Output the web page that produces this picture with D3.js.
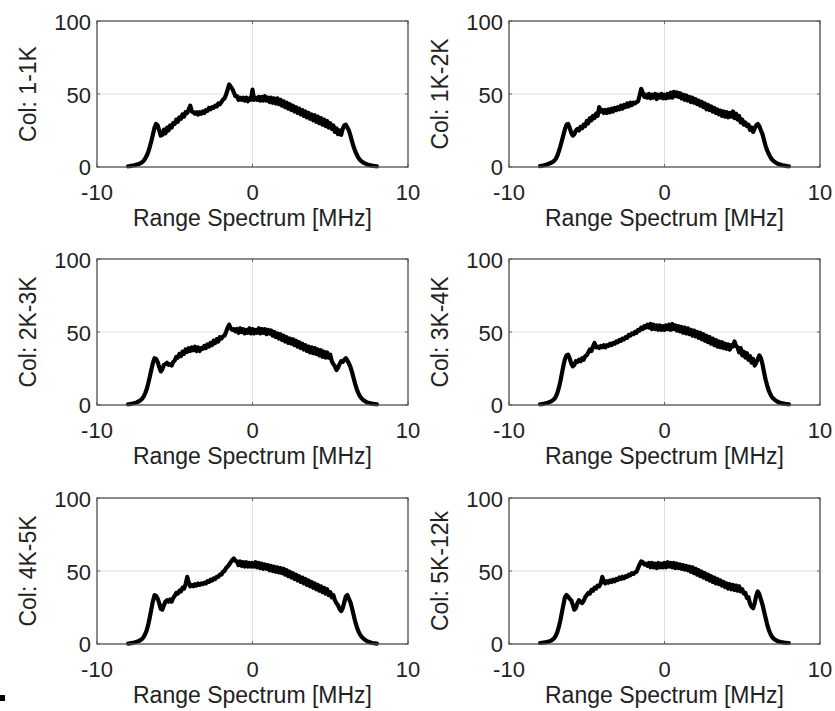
<!DOCTYPE html>
<html>
<head>
<meta charset="utf-8">
<script src="https://cdn.jsdelivr.net/npm/d3@7"></script>
<style>
  html, body { margin: 0; padding: 0; background: #fff; }
  svg { display: block; }
  text { font-family: "Liberation Sans", Arial, Helvetica, sans-serif; fill: #222; }
</style>
</head>
<body>
<svg id="chart" width="835" height="711"></svg>
<script>
// Range spectrum magnitude per column block, sampled every 0.1 MHz from -8 to 8 MHz
const freqStart = -8.0;
const freqStep = 0.1;

const panelLabels = ["Col: 1-1K", "Col: 1K-2K", "Col: 2K-3K", "Col: 3K-4K", "Col: 4K-5K", "Col: 5K-12k"];
const xTicks = [-10, 0, 10];
const yTicks = [0, 50, 100];
const xDomain = [-10, 10];
const yDomain = [0, 100];
const xTitle = "Range Spectrum [MHz]";

const spec1 = [
  0.5, 0.6, 0.8, 1.0, 1.2, 1.5, 1.8, 2.1, 2.6, 3.3,
  4.3, 5.8, 7.8, 10.5, 14, 18, 22.5, 27, 29.5, 28.5,
  25, 21.5, 22, 25.5, 23, 27, 25, 28.5, 27, 30,
  29.5, 32.5, 31, 34, 33, 36, 34.5, 37.5, 37, 39.5,
  42, 38, 37.5, 36.5, 37.5, 36, 37.5, 36.5, 38, 37,
  39, 38.5, 40.5, 39.5, 41, 40.5, 42, 41.5, 43.5, 43,
  44.5, 46, 47, 49.5, 53, 56.5, 55, 53.5, 51, 48.5,
  48.5, 46, 47.5, 46, 47.5, 45.5, 47.5, 45, 47, 46,
  53, 46, 47.5, 46, 48, 45.5, 48, 45.5, 48.5, 45.5,
  47.5, 44.5, 47.5, 44, 47, 43.5, 47, 43, 46, 42,
  45, 41, 44, 40, 43, 39, 42, 38, 41, 37,
  40, 36, 39, 35, 38, 34, 37, 33, 36, 32,
  35.5, 31, 34.5, 30, 33.5, 29, 32.5, 28, 31.5, 27,
  30, 26, 28.5, 24, 26.5, 22.5, 25, 22, 26, 28.5,
  29, 27, 25, 21.5, 17.5, 14, 11, 8.5, 6.5, 5,
  4, 3.2, 2.6, 2.1, 1.7, 1.4, 1.1, 0.9, 0.7, 0.6, 0.5
];

const spec2 = [
  0.6, 0.8, 1.0, 1.3, 1.6, 2.0, 2.4, 2.9, 3.4, 4.2,
  5.5, 7.5, 10.5, 14, 18, 22, 26, 29, 29.5, 27,
  23.5, 21.5, 22.5, 25, 26, 25, 27.5, 26.5, 29, 28,
  31.5, 30, 33.5, 32, 35, 33.5, 36.5, 35, 41, 38,
  39, 37, 39, 37, 39.5, 37.5, 40, 38, 40.5, 39,
  41, 39.5, 42, 40, 42.5, 41, 43.5, 41.5, 44, 42.5,
  44, 43.5, 44.5, 45, 49, 53.5, 51, 48, 49.5, 47.5,
  50, 47, 49.5, 47.5, 50, 46.5, 49.5, 47.5, 50, 47,
  49.5, 47, 50, 47.5, 51, 47.5, 51.5, 48.5, 51, 48,
  50.5, 47, 49.5, 46, 49, 45.5, 48, 44.5, 47.5, 44,
  46.5, 43, 45.5, 42, 44.5, 41, 43.5, 39.5, 42.5, 39,
  41.5, 38, 40.5, 37, 39.5, 36, 38.5, 35, 38, 34.5,
  37.5, 34, 37, 34.5, 38, 33.5, 36.5, 32.5, 35, 30.5,
  32.5, 29, 30.5, 28, 29, 25.5, 27, 24, 26.5, 28.5,
  29.5, 28, 25, 22.5, 18.5, 14.5, 11.5, 9, 7, 5.3,
  4.2, 3.4, 2.7, 2.2, 1.8, 1.5, 1.2, 1.0, 0.8, 0.6, 0.5
];

const spec3 = [
  0.5, 0.6, 0.8, 1.0, 1.3, 1.6, 2.0, 2.6, 3.3, 4.3,
  5.8, 8, 11, 15, 19.5, 24.5, 29, 32, 31.5, 29.5,
  26, 23, 24.5, 27.5, 28, 29, 27.5, 28, 27, 29.5,
  30.5, 33, 32.5, 35, 33.5, 36.5, 35, 38, 36.5, 39,
  37, 39.5, 37.5, 40, 37, 39.5, 37, 39, 38.5, 40.5,
  39, 41.5, 40, 42.5, 41, 44, 42.5, 45, 43.5, 46.5,
  45.5, 47, 47.5, 50, 53, 55, 52.5, 51.5, 52, 50.5,
  52, 49.5, 52.5, 50, 52, 49, 51.5, 49.5, 52.5, 49,
  52, 49, 51.5, 49.5, 52.5, 49, 52, 49.5, 52, 48.5,
  51.5, 49, 51, 47.5, 50, 46.5, 49, 45.5, 48.5, 44.5,
  47.5, 43.5, 46.5, 42.5, 45.5, 42, 45, 41, 44, 40,
  43, 39, 42, 38, 41, 37, 40, 36, 39.5, 35.5,
  39, 35, 38, 34, 37.5, 33, 36.5, 32.5, 36, 32.5,
  34.5, 30, 28, 26.5, 24, 25.5, 28, 30, 29.5, 31,
  32, 30.5, 28.5, 26, 22.5, 18.5, 14.5, 11, 8.3, 6.2,
  4.7, 3.6, 2.8, 2.2, 1.7, 1.4, 1.1, 0.9, 0.7, 0.6, 0.5
];

const spec4 = [
  0.5, 0.6, 0.8, 1.0, 1.3, 1.6, 2.0, 2.5, 3.1, 4.0,
  5.5, 8, 11.5, 16, 21.5, 27, 31.5, 34, 34.5, 32,
  28.5, 26.5, 27.5, 30, 29.5, 31, 30, 32, 31, 33.5,
  34, 36, 38, 37, 40, 42.5, 39.5, 40, 39, 40.5,
  39.5, 41, 39.5, 41, 40.5, 42, 41, 42.5, 42, 43.5,
  43, 44.5, 44, 45.5, 45, 46.5, 46, 48, 47.5, 49,
  48.5, 50, 49.5, 51.5, 51, 53, 52, 54, 53, 55,
  53, 55.5, 52, 55, 52, 54.5, 51.5, 54.5, 51.5, 54,
  51.5, 54.5, 52, 55, 51.5, 55.5, 52, 54.5, 51, 54,
  50.5, 53.5, 49.5, 53, 49, 52.5, 48.5, 51.5, 47.5, 51,
  47, 50, 46, 49.5, 45, 48.5, 44, 47.5, 43, 46.5,
  42, 45.5, 41, 44.5, 40, 43.5, 39.5, 43, 39, 42,
  38.5, 41.5, 38, 41, 40, 43.5, 40.5, 39.5, 36, 39,
  34, 36.5, 32.5, 35.5, 31, 33.5, 29, 31.5, 27, 29,
  31.5, 34, 32, 28, 22.5, 17.5, 13.5, 10, 7.5, 5.6,
  4.4, 3.4, 2.7, 2.1, 1.7, 1.3, 1.1, 0.9, 0.7, 0.6, 0.5
];

const spec5 = [
  0.3, 0.4, 0.6, 0.8, 1.0, 1.3, 1.7, 2.1, 2.7, 3.5,
  4.8, 6.8, 9.5, 13.5, 18.5, 24, 29.5, 33.5, 33, 31,
  28, 24, 23.5, 26.5, 29, 30, 29, 30.5, 29, 31.5,
  33, 35, 34.5, 36.5, 36, 38.5, 38, 41, 46, 42,
  39.5, 40.5, 39.5, 41, 40, 41.5, 40.5, 41.5, 41, 42,
  41.5, 43, 42.5, 44, 43.5, 45, 44.5, 46, 46, 47.5,
  47.5, 49.5, 50, 52, 53, 54.5, 56, 57.5, 58.5, 57,
  56.5, 54, 56.5, 53.5, 56, 53, 56, 53, 55.5, 53,
  55.5, 53, 56, 52.5, 55.5, 52, 55, 51.5, 54.5, 51.5,
  54, 50.5, 53.5, 50, 53, 49.5, 52.5, 49, 52, 48.5,
  51.5, 47.5, 50.5, 46.5, 49.5, 45.5, 48.5, 44.5, 47.5, 43.5,
  46.5, 42.5, 45.5, 41.5, 44.5, 40.5, 43.5, 39.5, 42.5, 38.5,
  41.5, 37.5, 40.5, 36.5, 39.5, 35.5, 38.5, 34.5, 37.5, 33.5,
  35.5, 32, 33.5, 30, 28, 26.5, 24, 22.5, 24.5, 28.5,
  32.5, 33.5, 31, 28.5, 24.5, 20, 15.5, 12, 9, 6.8,
  5.2, 4.0, 3.1, 2.4, 1.8, 1.4, 1.0, 0.7, 0.5, 0.4, 0.3
];

const spec6 = [
  0.7, 0.8, 0.9, 1.1, 1.3, 1.6, 1.9, 2.3, 3.0, 4.0,
  5.5, 8, 11.5, 16, 21.5, 27, 32, 33.5, 32.5, 31,
  30, 27, 23.5, 24.5, 28, 30, 29, 28, 29.5, 32,
  33.5, 35, 34.5, 37, 36.5, 38.5, 38, 40, 39.5, 41.5,
  46, 43, 41.5, 43, 42, 43.5, 42.5, 44, 43, 44.5,
  44, 45.5, 44.5, 46, 45, 46.5, 46, 47.5, 47, 48.5,
  48, 49, 49.5, 52, 54.5, 56.5, 56, 54.5, 55, 53.5,
  55.5, 52.5, 55.5, 52.5, 55, 52, 55.5, 52.5, 55, 52.5,
  55.5, 52.5, 56, 53, 55.5, 52.5, 55.5, 52, 55, 52,
  54.5, 51.5, 54, 51, 53.5, 50.5, 53, 49.5, 52.5, 48.5,
  51.5, 47.5, 50.5, 46.5, 49.5, 45.5, 48.5, 44.5, 47.5, 43.5,
  46.5, 42.5, 45.5, 41.5, 44.5, 41, 43.5, 40, 42.5, 39,
  41.5, 38, 41, 37.5, 40.5, 37, 40, 36.5, 39.5, 36,
  37.5, 34.5, 35, 31.5, 32, 27.5, 25.5, 24.5, 28, 33,
  36, 34, 30.5, 27, 22.5, 18, 13.5, 10, 7.2, 5.2,
  3.9, 3.0, 2.4, 1.9, 1.6, 1.3, 1.1, 0.9, 0.8, 0.7, 0.7
];

const spectra = [spec1, spec2, spec3, spec4, spec5, spec6];

// Layout of the 3x2 grid of axes
const colLeft = [97, 509];
const rowTop = [21, 259, 498];
const plotW = 311;
const plotH = 146;
const tickFont = 22;
const titleFont = 23;

const svg = d3.select("#chart");

const x = d3.scaleLinear().domain(xDomain).range([0, plotW]);
const y = d3.scaleLinear().domain(yDomain).range([plotH, 0]);

const line = d3.line()
  .x((d, i) => x(freqStart + i * freqStep))
  .y(d => y(d));

spectra.forEach((values, k) => {
  const col = k % 2, row = Math.floor(k / 2);
  const g = svg.append("g")
    .attr("transform", `translate(${colLeft[col]},${rowTop[row]})`);

  // grid
  g.append("g").selectAll("line").data(xTicks).join("line")
    .attr("x1", d => x(d)).attr("x2", d => x(d))
    .attr("y1", 0).attr("y2", plotH)
    .attr("stroke", "#e0e0e0").attr("stroke-width", 1);
  g.append("g").selectAll("line").data(yTicks).join("line")
    .attr("x1", 0).attr("x2", plotW)
    .attr("y1", d => y(d)).attr("y2", d => y(d))
    .attr("stroke", "#e0e0e0").attr("stroke-width", 1);

  // inward ticks on all four sides
  const tickLen = 3;
  const tk = g.append("g").attr("stroke", "#666").attr("stroke-width", 1);
  xTicks.forEach(t => {
    tk.append("line").attr("x1", x(t)).attr("x2", x(t)).attr("y1", plotH).attr("y2", plotH - tickLen);
    tk.append("line").attr("x1", x(t)).attr("x2", x(t)).attr("y1", 0).attr("y2", tickLen);
  });
  yTicks.forEach(t => {
    tk.append("line").attr("x1", 0).attr("x2", tickLen).attr("y1", y(t)).attr("y2", y(t));
    tk.append("line").attr("x1", plotW).attr("x2", plotW - tickLen).attr("y1", y(t)).attr("y2", y(t));
  });

  // spectrum trace
  g.append("path")
    .datum(values)
    .attr("d", line)
    .attr("fill", "none")
    .attr("stroke", "#000")
    .attr("stroke-width", 4.2)
    .attr("stroke-linejoin", "round")
    .attr("stroke-linecap", "round");

  // axes box
  g.append("rect")
    .attr("x", 0).attr("y", 0).attr("width", plotW).attr("height", plotH)
    .attr("fill", "none").attr("stroke", "#555").attr("stroke-width", 1.3);

  // tick labels
  g.append("g").selectAll("text").data(xTicks).join("text")
    .attr("x", d => x(d)).attr("y", plotH + 32.5)
    .attr("text-anchor", "middle")
    .attr("font-size", tickFont)
    .text(d => d);
  g.append("g").selectAll("text").data(yTicks).join("text")
    .attr("x", -6).attr("y", d => y(d) + (d === 0 ? 7.5 : 8.5))
    .attr("text-anchor", "end")
    .attr("font-size", tickFont)
    .text(d => d);

  // axis titles
  g.append("text")
    .attr("x", plotW / 2).attr("y", plotH + 59)
    .attr("text-anchor", "middle")
    .attr("font-size", titleFont)
    .text(xTitle);
  g.append("text")
    .attr("transform", `translate(-61,${plotH / 2}) rotate(-90)`)
    .attr("text-anchor", "middle")
    .attr("font-size", titleFont)
    .text(panelLabels[k]);
});

// small marker in the lower-left corner
svg.append("rect").attr("x", 0).attr("y", 695).attr("width", 5).attr("height", 6).attr("fill", "#000");
</script>
</body>
</html>
